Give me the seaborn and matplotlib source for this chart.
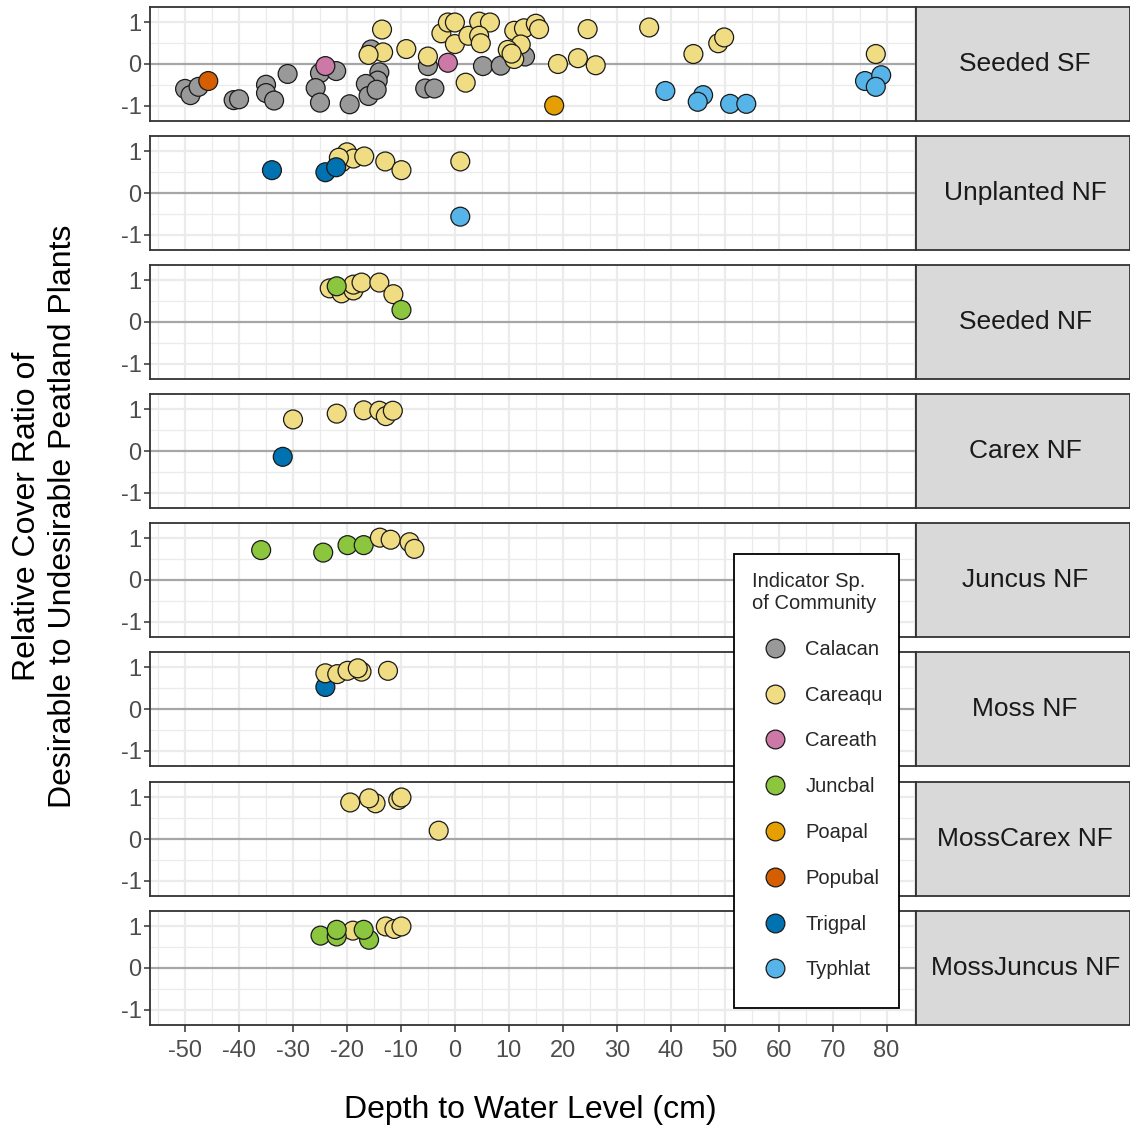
import numpy as np
import pandas as pd
import matplotlib
matplotlib.use("Agg")
import matplotlib.pyplot as plt
from matplotlib.lines import Line2D
from matplotlib.patches import Rectangle
import seaborn as sns

# ---- data: depth to water level (cm), cover ratio, indicator species ----
sites = ["Seeded SF", "Unplanted NF", "Seeded NF", "Carex NF",
         "Juncus NF", "Moss NF", "MossCarex NF", "MossJuncus NF"]

species_order = ["Calacan", "Careaqu", "Careath", "Juncbal",
                 "Poapal", "Popubal", "Trigpal", "Typhlat"]
species_colors = ["#999999", "#F0DC82", "#CC79A7", "#8CC63F",
                  "#E69F00", "#D55E00", "#0072B2", "#56B4E9"]

seeded_sf_depth = [-50, -49, -47.5, -41, -40, -35, -35, -33.5, -31, -25, -22,
                   -25.8, -25, -19.5, -15.5, -14, -14.3, -16.5, -16, -14.5,
                   -5, -5.5, -3.8, 5.2, 8.5, 13,
                   -13.5, -13.3, -16, -9, -5, -2.5, -1.3, 0, 0, 2.5, 4.5, 6.5,
                   4.5, 4.8, 2, 11, 12.8, 15, 15.6, 12.2, 9.8, 11, 10.5, 19.1,
                   22.8, 24.6, 26.1, 36, 44.2, 48.8, 49.9, 78,
                   -24, -1.3, 18.4, -45.7,
                   39, 46, 45, 51, 54, 76, 79, 78]
seeded_sf_ratio = [-0.6, -0.75, -0.55, -0.87, -0.85, -0.5, -0.7, -0.88, -0.24,
                   -0.22, -0.17, -0.58, -0.93, -0.97, 0.35, -0.2, -0.4, -0.48,
                   -0.77, -0.62, -0.05, -0.59, -0.59, -0.05, -0.04, 0.18,
                   0.83, 0.28, 0.22, 0.36, 0.18, 0.74, 1.0, 1.0, 0.48, 0.68,
                   1.02, 1.0, 0.68, 0.5, -0.45, 0.8, 0.86, 0.97, 0.84, 0.47,
                   0.34, 0.12, 0.25, 0.0, 0.14, 0.84, -0.03, 0.88, 0.24, 0.5,
                   0.64, 0.24,
                   -0.05, 0.03, -1.0, -0.41,
                   -0.65, -0.75, -0.91, -0.96, -0.96, -0.41, -0.27, -0.55]
seeded_sf_species = (["Calacan"] * 26 + ["Careaqu"] * 32 +
                     ["Careath", "Careath", "Poapal", "Popubal"] +
                     ["Typhlat"] * 8)

unplanted_nf_depth = [-21, -20, -18.8, -16.8, -12.9, -9.9, 1.0, -21.5,
                      -33.9, -24, -22, 1.0]
unplanted_nf_ratio = [0.74, 0.98, 0.83, 0.88, 0.76, 0.55, 0.76, 0.85,
                      0.55, 0.5, 0.62, -0.57]
unplanted_nf_species = ["Careaqu"] * 8 + ["Trigpal"] * 3 + ["Typhlat"]

seeded_nf_depth = [-23.2, -21, -18.8, -18.8, -17.3, -14, -11.4, -21.9, -9.9]
seeded_nf_ratio = [0.81, 0.69, 0.76, 0.9, 0.95, 0.95, 0.67, 0.86, 0.29]
seeded_nf_species = ["Careaqu"] * 7 + ["Juncbal"] * 2

carex_nf_depth = [-30, -21.9, -16.9, -14, -12.8, -11.5, -31.9]
carex_nf_ratio = [0.76, 0.9, 0.98, 0.97, 0.84, 0.97, -0.14]
carex_nf_species = ["Careaqu"] * 6 + ["Trigpal"]

juncus_nf_depth = [-35.9, -24.4, -19.9, -16.9, -13.9, -11.9, -8.4, -7.5]
juncus_nf_ratio = [0.72, 0.66, 0.84, 0.84, 1.02, 0.97, 0.91, 0.75]
juncus_nf_species = ["Juncbal"] * 4 + ["Careaqu"] * 4

moss_nf_depth = [-24, -24, -21.8, -19.9, -17.3, -18, -12.4]
moss_nf_ratio = [0.53, 0.86, 0.84, 0.92, 0.9, 0.98, 0.92]
moss_nf_species = ["Trigpal"] + ["Careaqu"] * 6

mosscarex_nf_depth = [-19.4, -14.7, -15.9, -10.5, -9.9, -3]
mosscarex_nf_ratio = [0.88, 0.86, 0.98, 0.94, 1.0, 0.2]
mosscarex_nf_species = ["Careaqu"] * 6

mossjuncus_nf_depth = [-18.9, -12.8, -11.2, -9.9, -24.9, -21.9, -21.9, -15.9, -16.9]
mossjuncus_nf_ratio = [0.9, 1.0, 0.94, 1.0, 0.78, 0.76, 0.92, 0.68, 0.92]
mossjuncus_nf_species = ["Careaqu"] * 4 + ["Juncbal"] * 5

x_ticks = [-50, -40, -30, -20, -10, 0, 10, 20, 30, 40, 50, 60, 70, 80]
y_ticks = [-1, 0, 1]

site_data = {
    "Seeded SF": (seeded_sf_depth, seeded_sf_ratio, seeded_sf_species),
    "Unplanted NF": (unplanted_nf_depth, unplanted_nf_ratio, unplanted_nf_species),
    "Seeded NF": (seeded_nf_depth, seeded_nf_ratio, seeded_nf_species),
    "Carex NF": (carex_nf_depth, carex_nf_ratio, carex_nf_species),
    "Juncus NF": (juncus_nf_depth, juncus_nf_ratio, juncus_nf_species),
    "Moss NF": (moss_nf_depth, moss_nf_ratio, moss_nf_species),
    "MossCarex NF": (mosscarex_nf_depth, mosscarex_nf_ratio, mosscarex_nf_species),
    "MossJuncus NF": (mossjuncus_nf_depth, mossjuncus_nf_ratio, mossjuncus_nf_species),
}

frames = []
for site in sites:
    d, r, s = site_data[site]
    frames.append(pd.DataFrame({"site": site, "depth": d, "ratio": r, "species": s}))
df = pd.concat(frames, ignore_index=True)

palette = dict(zip(species_order, species_colors))

# ---- figure layout (pixel geometry of a 1130 x 1131 canvas) ----
sns.set_theme(style="white")
plt.rcParams["font.family"] = ["Liberation Sans", "DejaVu Sans"]

W, H = 1130, 1131
fig = plt.figure(figsize=(W / 100, H / 100), dpi=100)

panel_left, panel_right = 150, 916
panel_h = 114
panel_tops = [7, 136, 265, 394, 523, 652, 782, 911]
xlim = (-56.5, 85.45)
ylim = (-1.373, 1.373)
border = "#333333"
grid_col = "#EBEBEB"

for i, site in enumerate(sites):
    top = panel_tops[i]
    ax = fig.add_axes([panel_left / W, 1 - (top + panel_h) / H,
                       (panel_right - panel_left) / W, panel_h / H])
    ax.set_facecolor("white")
    ax.set_xlim(*xlim)
    ax.set_ylim(*ylim)

    # grid: major and minor lines
    for xv in np.arange(-50, 81, 10):
        ax.axvline(xv, color=grid_col, lw=1.6, zorder=0)
    for xv in np.arange(-55, 86, 10):
        ax.axvline(xv, color=grid_col, lw=0.9, zorder=0)
    for yv in (-1, 1):
        ax.axhline(yv, color=grid_col, lw=1.6, zorder=0)
    for yv in (-0.5, 0.5):
        ax.axhline(yv, color=grid_col, lw=0.9, zorder=0)
    ax.axhline(0, color="#A6A6A6", lw=1.6, zorder=1)

    sub = df[df["site"] == site]
    sns.scatterplot(data=sub, x="depth", y="ratio", hue="species",
                    hue_order=species_order, palette=palette, s=185,
                    edgecolor="#1a1a1a", linewidth=0.9, legend=False,
                    ax=ax, zorder=3)

    ax.set_xlabel("")
    ax.set_ylabel("")
    ax.set_yticks(y_ticks)
    ax.set_yticklabels([str(v) for v in y_ticks])
    ax.set_xticks(x_ticks)
    if i == len(sites) - 1:
        ax.set_xticklabels([str(v) for v in x_ticks])
        ax.tick_params(axis="x", bottom=True, length=5, width=1.1,
                       color=border, labelsize=17, labelcolor="#4D4D4D", pad=6)
    else:
        ax.set_xticklabels([])
        ax.tick_params(axis="x", bottom=False)
    ax.tick_params(axis="y", left=True, length=4, width=1.1, color=border,
                   labelsize=17, labelcolor="#4D4D4D", pad=2)
    ax.grid(False)
    for sp in ax.spines.values():
        sp.set_color(border)
        sp.set_linewidth(1.3)

    # facet strip on the right
    sax = fig.add_axes([panel_right / W, 1 - (top + panel_h) / H,
                        (W - panel_right) / W, panel_h / H])
    sax.set_facecolor("#D9D9D9")
    sax.set_xticks([])
    sax.set_yticks([])
    for sp in sax.spines.values():
        sp.set_color(border)
        sp.set_linewidth(1.3)
    sax.text(0.51, 0.5, site, transform=sax.transAxes, ha="center",
             va="center", fontsize=19, color="#1A1A1A")

# ---- axis titles ----
fig.text(530 / W, 1 - 1110 / H, "Depth to Water Level (cm)", ha="center",
         va="center", fontsize=23, color="black")
fig.text(45 / W, 1 - 516 / H,
         "Relative Cover Ratio of\nDesirable to Undesirable Peatland Plants",
         ha="center", va="center", rotation=90, fontsize=23,
         color="black", multialignment="center", linespacing=1.22)

# ---- legend ----
box = Rectangle((734 / W, 1 - 1008 / H), (899 - 734) / W, (1008 - 554) / H,
                transform=fig.transFigure, facecolor="white",
                edgecolor="black", linewidth=1.3, zorder=4)
fig.patches.append(box)

handles = [Line2D([0], [0], marker="o", linestyle="", markersize=13.5,
                  markerfacecolor=c, markeredgecolor="#1a1a1a",
                  markeredgewidth=0.9) for c in species_colors]
leg = fig.legend(handles, species_order, title="Indicator Sp.\nof Community",
                 loc="upper left", bbox_to_anchor=(736 / W, 1 - 556 / H),
                 frameon=False, fontsize=14.5, title_fontsize=14.5,
                 labelspacing=1.33, handletextpad=0.35, handlelength=2.3,
                 borderpad=0.3, alignment="left")
leg.set_zorder(5)

fig.savefig("out.png", dpi=100)
